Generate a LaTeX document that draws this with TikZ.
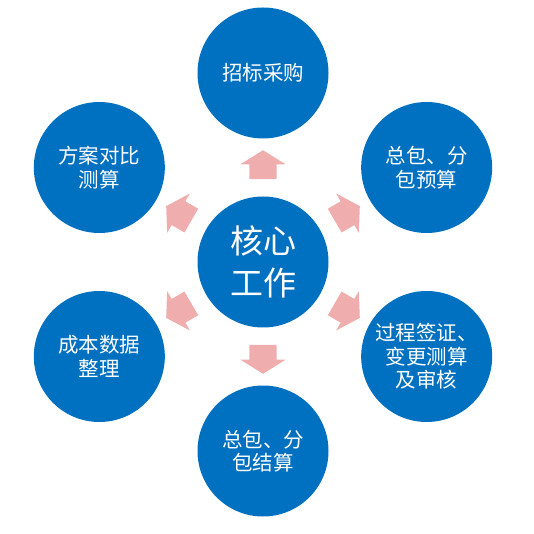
\documentclass[tikz,border=0pt]{standalone}
\usepackage{fontspec}
\newfontfamily\cjk{Noto Sans CJK SC}
\usetikzlibrary{shapes.arrows}
\definecolor{Bc}{HTML}{0070C0}
\definecolor{Pc}{HTML}{EFADAD}
\tikzset{
  hub/.style={circle, fill=Bc, inner sep=0pt, minimum size=131pt, text=white, align=center, font=\cjk\fontsize{33}{42}\selectfont},
  task/.style={circle, fill=Bc, inner sep=0pt, minimum size=131pt, text=white, align=center, font=\cjk\fontsize{20.5}{23.5}\selectfont},
  push/.style={single arrow, fill=Pc, inner xsep=0pt, inner ysep=13.5pt, minimum height=29pt,
    single arrow head extend=9pt, single arrow tip angle=116, single arrow head indent=0pt},
}
\begin{document}
\begin{tikzpicture}[x=1pt, y=1pt]
  \useasboundingbox (-263,-272) rectangle (271,262);
  % centre and the six tasks round it
  \node[hub] (core) at (0,0) {核心\\工作};
  \foreach \a/\n/\t in {90/zb/招标采购, 30/ys/{总包、分\\包预算}, -30/qz/{过程签证、\\变更测算\\及审核},
      -90/js/{总包、分\\包结算}, 210/cb/{成本数据\\整理}, 150/fa/{方案对比\\测算}}
    \node[task] (\n) at (\a:189) {\t};
  % pink block arrows pointing out
  \foreach \a [count=\i] in {90,30,-30,-90,210,150}
    \node[push, rotate=\a] (arr\i) at (\a:93) {};
\end{tikzpicture}
\end{document}
